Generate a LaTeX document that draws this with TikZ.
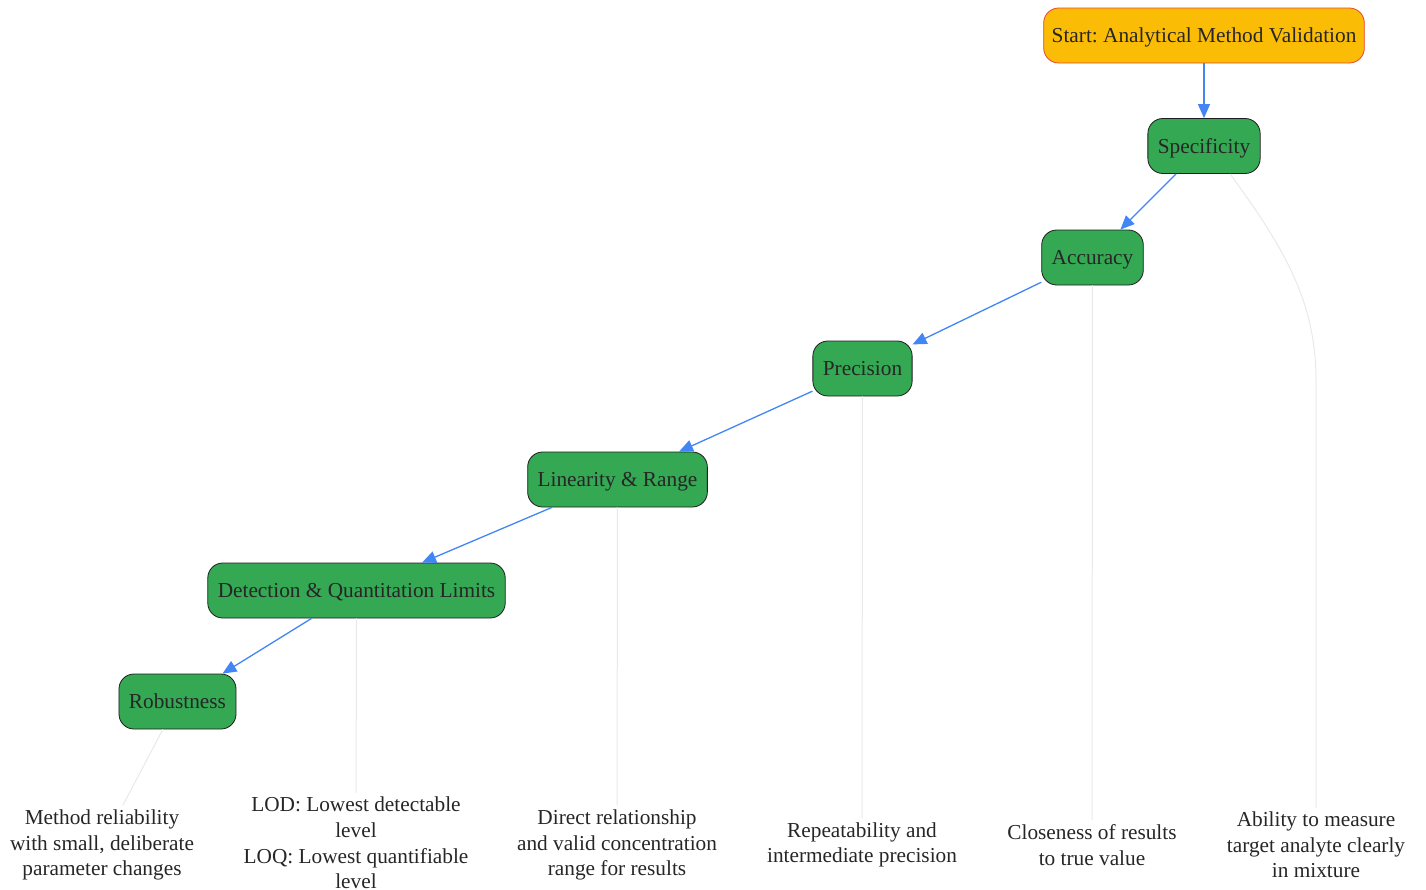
\documentclass[tikz,border=0pt]{standalone}
\usepackage{fontspec}
\setmainfont{Liberation Serif}
\usetikzlibrary{arrows.meta}
\definecolor{startfill}{HTML}{FBBC05}
\definecolor{startline}{HTML}{EA4335}
\definecolor{stagefill}{HTML}{34A853}
\definecolor{stageline}{HTML}{1E1E1E}
\definecolor{flowblue}{HTML}{4285F4}
\definecolor{linkgray}{HTML}{E9E9E9}
\definecolor{inktext}{HTML}{262626}
\frenchspacing

\begin{document}
\begin{tikzpicture}[x=1pt,y=-1pt,
    font=\fontsize{21.3}{25.7}\selectfont, text=inktext,
    startbox/.style = {draw=startline, fill=startfill, thick, rounded corners=15pt,
                       minimum height=55pt, inner xsep=8pt, text height=16pt, text depth=2pt},
    stagebox/.style = {draw=stageline, fill=stagefill, thick, rounded corners=15pt,
                       minimum height=55pt, inner xsep=10pt, text height=16pt, text depth=2pt},
    note/.style = {align=center, inner sep=4pt},
    flow/.style = {draw=flowblue, line width=1.3pt, -{Triangle[length=14pt,width=12pt]}},
    link/.style = {draw=linkgray, line width=1pt}]
   \useasboundingbox (0,0) rectangle (1426,889);
   % stages
   \node[startbox] (start) at (1204,35.5)  {Start: Analytical Method Validation};
   \node[stagebox] (spec)  at (1204,146)   {Specificity};
   \node[stagebox] (acc)   at (1092.5,257.5) {Accuracy};
   \node[stagebox] (prec)  at (862.5,368.5) {Precision};
   \node[stagebox] (lin)   at (617.5,479.5) {Linearity \& Range};
   \node[stagebox] (lim)   at (356.5,590.5) {Detection \& Quantitation Limits};
   \node[stagebox] (rob)   at (177.5,701.5) {Robustness};
   % notes
   \node[note] (robtxt)  at (102,845)  {Method reliability\\with small, deliberate\\parameter changes};
   \node[note] (limtxt)  at (356,843)  {LOD: Lowest detectable\\level\\LOQ: Lowest quantifiable\\level};
   \node[note] (lintxt)  at (617,845)  {Direct relationship\\and valid concentration\\range for results};
   \node[note] (prectxt) at (862,845)  {Repeatability and\\intermediate precision};
   \node[note] (acctxt)  at (1092,845) {Closeness of results\\to true value};
   \node[note] (spectxt) at (1316,845) {Ability to measure\\target analyte clearly\\in mixture};
   % flow
   \draw[flow] (start) -- (spec);
   \draw[flow] (spec) -- (acc);
   \draw[flow] (acc) -- (prec);
   \draw[flow] (prec) -- (lin);
   \draw[flow] (lin) -- (lim);
   \draw[flow] (lim) -- (rob);
   % links to notes
   \coordinate (bend) at (1316,380);
   \draw[link] ([xshift=26pt]spec.south) .. controls (1282,245) and (1316,300) .. (bend) -- (spectxt);
   \draw[link] (acc) -- (acctxt);
   \draw[link] (prec) -- (prectxt);
   \draw[link] (lin) -- (lintxt);
   \draw[link] (lim) -- (limtxt);
   \draw[link] (rob) -- (robtxt);
 \end{tikzpicture}
\end{document}
